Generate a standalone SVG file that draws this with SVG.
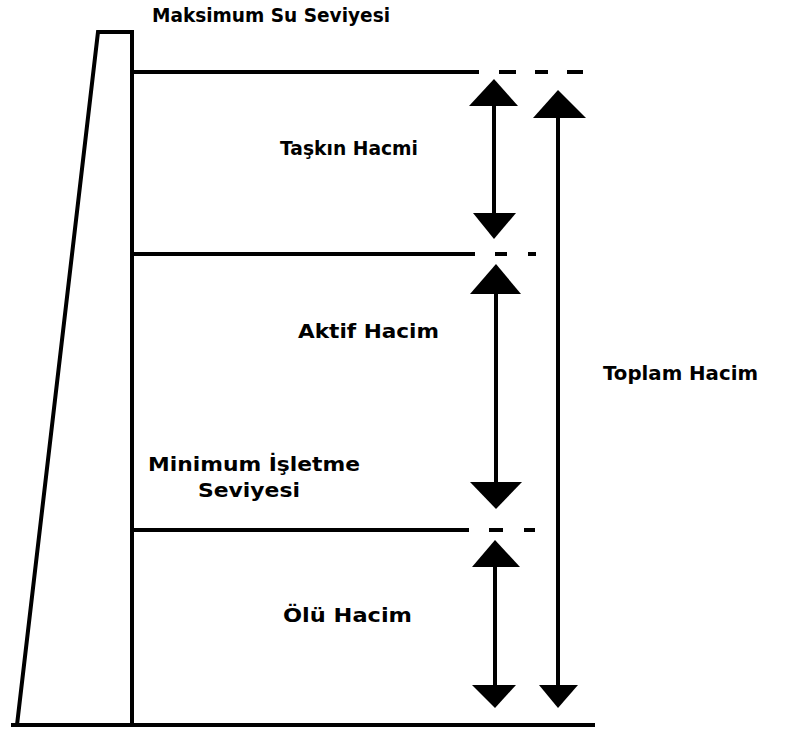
<svg xmlns="http://www.w3.org/2000/svg" width="790" height="729" viewBox="0 0 790 729">
<defs>
<style>
.ln{stroke:#000;stroke-width:4;fill:none}
.dm{stroke:#000;stroke-width:4;fill:none;stroke-linejoin:miter}
.sh{stroke:#000;stroke-width:4;fill:none}
.hd{fill:#000}
.t{font-family:"DejaVu Sans",Verdana,sans-serif;font-weight:bold;font-size:20px;fill:#000}
</style>
</defs>
<rect width="790" height="729" fill="#fff"/>
<g id="dam">
<polyline class="dm" points="17,725 98,32 132,32 132,727"/>
<line class="ln" x1="11" y1="725" x2="595" y2="725"/>
</g>
<g id="levels">
<line class="ln" x1="132" y1="72" x2="479" y2="72"/>
<line class="ln" x1="499" y1="72" x2="516" y2="72"/>
<line class="ln" x1="535" y1="72" x2="548" y2="72"/>
<line class="ln" x1="567" y1="72" x2="583" y2="72"/>
<line class="ln" x1="132" y1="254" x2="475" y2="254"/>
<line class="ln" x1="495" y1="254" x2="507" y2="254"/>
<line class="ln" x1="528" y1="254" x2="536" y2="254"/>
<line class="ln" x1="132" y1="530" x2="469" y2="530"/>
<line class="ln" x1="489" y1="530" x2="503" y2="530"/>
<line class="ln" x1="524" y1="530" x2="535" y2="530"/>
</g>
<g id="connectors">
<line class="sh" x1="494" y1="100" x2="494" y2="220"/>
<polygon class="hd" points="494,79 518,106 469,106"/>
<polygon class="hd" points="494,239 516,213 473,213"/>
<line class="sh" x1="496" y1="285" x2="496" y2="490"/>
<polygon class="hd" points="496,264 521,294 470,294"/>
<polygon class="hd" points="496,509 522,482 470,482"/>
<line class="sh" x1="495" y1="560" x2="495" y2="690"/>
<polygon class="hd" points="495,540 520,567 472,567"/>
<polygon class="hd" points="495,708 516,685 472,685"/>
<line class="sh" x1="558" y1="110" x2="558" y2="690"/>
<polygon class="hd" points="558,90 586,118 533,118"/>
<polygon class="hd" points="558,708 578,685 539,685"/>
</g>
<g id="label-max"><text class="t" x="152" y="22" textLength="238" lengthAdjust="spacingAndGlyphs">Maksimum Su Seviyesi</text></g>
<g id="label-taskin"><text class="t" x="280" y="155" textLength="138" lengthAdjust="spacingAndGlyphs">Taşkın Hacmi</text></g>
<g id="label-aktif"><text class="t" x="298" y="338" textLength="141" lengthAdjust="spacingAndGlyphs">Aktif Hacim</text></g>
<g id="label-toplam"><text class="t" x="603" y="380" textLength="155" lengthAdjust="spacingAndGlyphs">Toplam Hacim</text></g>
<g id="label-min"><text class="t" x="148" y="471" textLength="212" lengthAdjust="spacingAndGlyphs">Minimum İşletme</text><text class="t" x="198" y="497" textLength="102" lengthAdjust="spacingAndGlyphs">Seviyesi</text></g>
<g id="label-olu"><text class="t" x="283" y="622" textLength="129" lengthAdjust="spacingAndGlyphs">Ölü Hacim</text></g>
</svg>
